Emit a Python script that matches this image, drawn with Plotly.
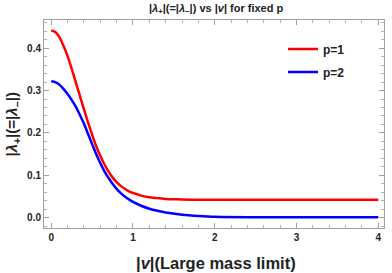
import plotly.graph_objects as go

v_vals = [0, 0.05, 0.1, 0.15, 0.2, 0.25, 0.3, 0.35, 0.4, 0.45, 0.5, 0.55, 0.6, 0.65, 0.7, 0.75,
          0.8, 0.85, 0.9, 0.95, 1.0, 1.1, 1.2, 1.3, 1.4, 1.6, 1.8, 2.0, 2.5, 3.0, 3.5, 4.0]
p1_vals = [0.442, 0.438, 0.426, 0.406, 0.382, 0.352, 0.320, 0.288, 0.256, 0.225, 0.196, 0.169,
           0.146, 0.126, 0.109, 0.095, 0.084, 0.075, 0.068, 0.062, 0.058, 0.052, 0.048, 0.046,
           0.044, 0.043, 0.042, 0.042, 0.042, 0.042, 0.042, 0.042]
p2_vals = [0.322, 0.320, 0.314, 0.304, 0.292, 0.278, 0.262, 0.243, 0.222, 0.198, 0.174, 0.150,
           0.129, 0.110, 0.094, 0.080, 0.068, 0.058, 0.050, 0.043, 0.037, 0.028, 0.021, 0.016,
           0.012, 0.007, 0.004, 0.002, 0.001, 0.001, 0.001, 0.001]
series_names = ["p=1", "p=2"]
x_ticks = [0, 1, 2, 3, 4]
y_ticks = [0.0, 0.1, 0.2, 0.3, 0.4]

FONT = "Liberation Sans, Arial, sans-serif"
TXT = "#222222"

fig = go.Figure()
fig.add_trace(go.Scatter(x=v_vals, y=p1_vals, mode="lines", name=series_names[0], legendgroup="a",
                         line=dict(color="#ff0000", width=2.5, shape="spline", smoothing=0.6)))
fig.add_trace(go.Scatter(x=v_vals, y=p2_vals, mode="lines", name=series_names[1], legendgroup="b",
                         line=dict(color="#0000ff", width=2.5, shape="spline", smoothing=0.6)))

axis_common = dict(
    showgrid=False, zeroline=False, showline=True, linecolor="#a0a0a0", linewidth=1,
    mirror="ticks", ticks="inside", ticklen=5, tickcolor="#a0a0a0", tickwidth=1,
    tickfont=dict(family=FONT, size=10, color=TXT, weight="bold"),
    automargin=False,
)

fig.update_layout(
    width=392, height=273,
    margin=dict(l=44, r=8, t=20, b=45),
    paper_bgcolor="white", plot_bgcolor="white",
    xaxis=dict(range=[-0.088, 4.07], tickvals=x_ticks, ticktext=[str(t) for t in x_ticks],
               minor=dict(dtick=0.2, ticks="inside", ticklen=3, tickcolor="#b0b0b0"),
               **axis_common),
    yaxis=dict(range=[-0.0245, 0.4665], tickvals=y_ticks, ticktext=[f"{t:.1f}" for t in y_ticks],
               minor=dict(dtick=0.02, ticks="inside", ticklen=3, tickcolor="#b0b0b0"),
               **axis_common),
    legend=dict(x=0.703, y=0.93, xanchor="left", yanchor="top", bgcolor="rgba(0,0,0,0)",
                font=dict(family=FONT, size=12, color=TXT, weight="bold"),
                itemwidth=30, tracegroupgap=4),
    showlegend=True,
    annotations=[
        dict(text="<b>|<i>λ</i><sub>+</sub>|(=|<i>λ</i><sub>−</sub>|) vs |<i>v</i>| for fixed p</b>",
             xref="paper", yref="paper", x=0.506, y=1.055, xanchor="center", yanchor="middle",
             showarrow=False, font=dict(family=FONT, size=11, color=TXT)),
        dict(text="<b>|<i>v</i>|(Large mass limit)</b>",
             xref="paper", yref="paper", x=0.505, y=-0.168, xanchor="center", yanchor="middle",
             showarrow=False, font=dict(family=FONT, size=16.5, color=TXT)),
        dict(text="<b>|<i>λ</i><sub>+</sub>|(=|<i>λ</i><sub>−</sub>|)</b>", textangle=-90,
             xref="paper", yref="paper", x=-0.0912, y=0.502, xanchor="center", yanchor="middle",
             showarrow=False, font=dict(family=FONT, size=15, color=TXT)),
    ],
)

fig.write_html("out.html", config={"displayModeBar": False},
               post_script="document.body.style.margin='0';")
